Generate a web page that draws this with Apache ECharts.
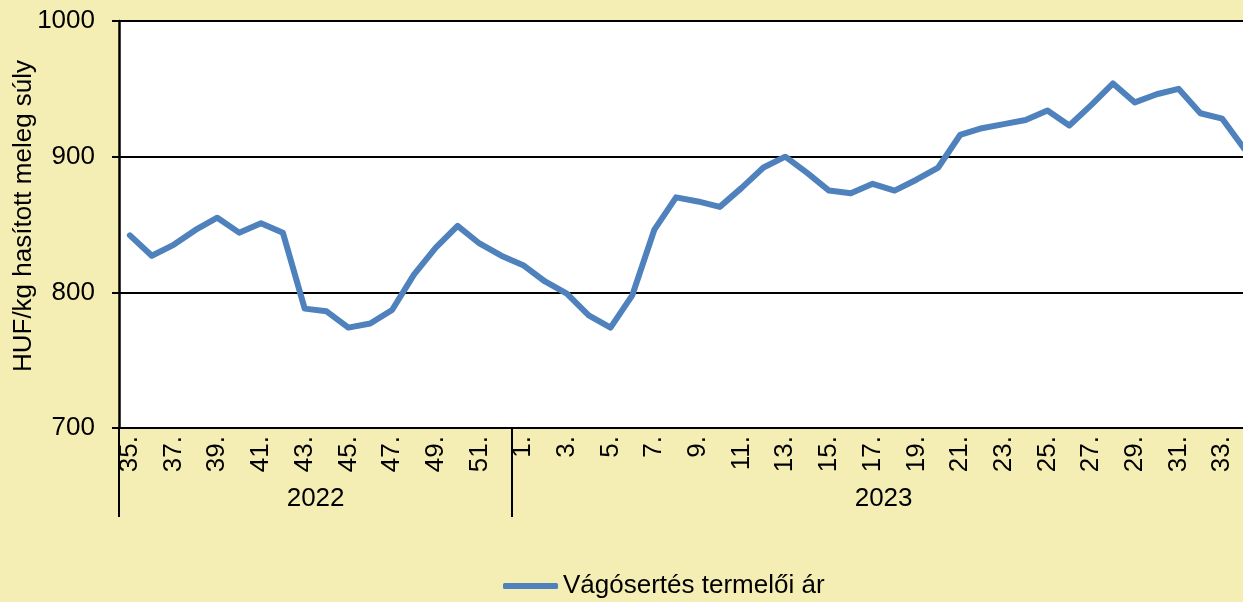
<!DOCTYPE html>
<html>
<head>
<meta charset="utf-8">
<script src="https://cdn.jsdelivr.net/npm/echarts@6/dist/echarts.min.js"></script>
<style>
html,body{margin:0;padding:0;background:#F5EEB4;}
#c{width:1243px;height:602px;}
</style>
</head>
<body>
<div id="c"></div>
<script>
// Week labels
var weeks2022 = ['35.','36.','37.','38.','39.','40.','41.','42.','43.','44.','45.','46.','47.','48.','49.','50.','51.','52.'];
var weeks2023 = ['1.','2.','3.','4.','5.','6.','7.','8.','9.','10.','11.','12.','13.','14.','15.','16.','17.','18.','19.','20.','21.','22.','23.','24.','25.','26.','27.','28.','29.','30.','31.','32.','33.','34.'];
var years = ['2022', '2023'];
// Series values (HUF/kg)
var values2022 = [842,827,835,846,855,844,851,844,788,786,774,777,787,813,833,849,836,827];
var values2023 = [820,808,799,783,774,798,846,870,867,863,877,892,900,888,875,873,880,875,883,892,916,921,924,927,934,923,938,954,940,946,950,932,928,906];
var yTicks = [700, 800, 900, 1000];
var seriesName = 'Vágósertés termelői ár';
var yTitle = 'HUF/kg hasított meleg súly';

var categories = weeks2022.concat(weeks2023);
var values = values2022.concat(values2023);

// boundary axis: n+1 boundary points; year labels at middle of each year span
var n = categories.length;
var boundary = [];
for (var i = 0; i <= n; i++) boundary.push('');
var y1Mid = weeks2022.length / 2;
var y2Mid = weeks2022.length + weeks2023.length / 2;
boundary[y1Mid] = years[0];
boundary[y2Mid] = years[1];
var sepIdx = [0, weeks2022.length, n];

var FONT = 'Liberation Sans, Arial, sans-serif';
var chart = echarts.init(document.getElementById('c'));
chart.setOption({
  backgroundColor: '#F5EEB4',
  animation: false,
  textStyle: {fontFamily: FONT},
  grid: {left: 119, top: 21, height: 407, width: 1136, show: true, backgroundColor: '#ffffff', borderWidth: 0,
    containLabel: false, outerBoundsMode: 'none'},
  legend: {
    data: [seriesName], left: 503, top: 573, padding: 0, icon: 'roundRect', itemWidth: 55, itemHeight: 6,
    textStyle: {fontSize: 26, color: '#000', fontFamily: FONT}
  },
  xAxis: [{
    type: 'category', data: categories, boundaryGap: true,
    axisLine: {lineStyle: {color: '#000', width: 2}},
    axisTick: {show: false},
    axisLabel: {interval: 1, rotate: 90, margin: 8, fontSize: 26, color: '#000', fontFamily: FONT},
    splitLine: {show: false}
  }, {
    type: 'category', data: boundary, boundaryGap: false, position: 'bottom',
    axisLine: {show: false},
    axisTick: {show: true, length: 89, lineStyle: {color: '#000', width: 2},
      interval: function (idx) { return sepIdx.indexOf(idx) >= 0; }},
    axisLabel: {interval: 0, margin: 58, fontSize: 26, color: '#000', fontFamily: FONT},
    splitLine: {show: false}
  }],
  yAxis: {
    type: 'value', min: yTicks[0], max: yTicks[yTicks.length - 1], interval: 100,
    axisLine: {show: true, lineStyle: {color: '#000', width: 2.5}},
    axisTick: {show: true, length: 7, lineStyle: {color: '#000', width: 2}},
    axisLabel: {margin: 24, fontSize: 26, color: '#000', fontFamily: FONT,
      formatter: function (v) { return String(v); }},
    splitLine: {show: true, lineStyle: {color: '#000', width: 2}}
  },
  graphic: [{
    type: 'text', x: 24, y: 216, rotation: Math.PI / 2,
    style: {text: yTitle, fontSize: 26, fontFamily: FONT, fill: '#000', align: 'center', verticalAlign: 'middle'}
  }],
  series: [{
    name: seriesName, type: 'line', data: values, symbol: 'none', xAxisIndex: 0,
    lineStyle: {color: '#4F81BD', width: 6, join: 'round', cap: 'round'},
    itemStyle: {color: '#4F81BD'}
  }]
});
</script>
</body>
</html>
